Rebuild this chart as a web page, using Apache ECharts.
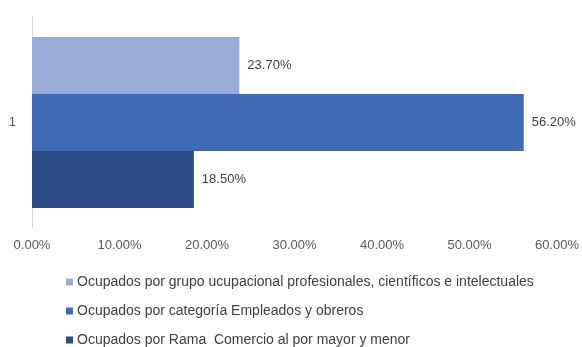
<!DOCTYPE html>
<html>
<head>
<meta charset="utf-8">
<script src="https://cdn.jsdelivr.net/npm/echarts@6/dist/echarts.min.js"></script>
<style>
  html, body { margin: 0; padding: 0; background: #fff; }
  #chart { width: 582px; height: 347px; }
</style>
</head>
<body>
<div id="chart"></div>
<script>
// Categories and series values (percent)
const categories = ['1'];
const seriesNames = [
  'Ocupados por grupo ucupacional profesionales, científicos e intelectuales',
  'Ocupados por categoría Empleados y obreros',
  'Ocupados por Rama  Comercio al por mayor y menor'
];
const profesionales = [23.7];
const empleados = [56.2];
const comercio = [18.5];
const seriesColors = ['#98aad6', '#3e6ab8', '#2c4c87'];
const xTicks = { min: 0, max: 60, interval: 10 };

const font = 'Liberation Sans';
const textColor = '#595959';

function pct(v) { return v.toFixed(2) + '%'; }

function makeSeries(name, data, color) {
  return {
    name: name,
    type: 'bar',
    data: data,
    barGap: '0%',
    barCategoryGap: '19%',
    itemStyle: { color: color },
    label: {
      show: true,
      position: 'right',
      distance: 8,
      color: '#404040',
      fontFamily: font,
      fontSize: 13,
      formatter: p => pct(p.value)
    }
  };
}

const chart = echarts.init(document.getElementById('chart'), null, { renderer: 'canvas' });
chart.setOption({
  animation: false,
  textStyle: { fontFamily: font },
  grid: { left: 32, right: 23, top: 17, bottom: 119, containLabel: false },
  legend: {
    orient: 'vertical',
    left: 66,
    top: 275,
    padding: 0,
    itemWidth: 7,
    itemHeight: 7,
    itemGap: 15,
    icon: 'rect',
    data: seriesNames,
    textStyle: { color: '#404040', fontFamily: font, fontSize: 14, padding: [0, 0, 0, -1] }
  },
  xAxis: {
    type: 'value',
    min: xTicks.min,
    max: xTicks.max,
    interval: xTicks.interval,
    axisLine: { show: false },
    axisTick: { show: false },
    splitLine: { show: false },
    axisLabel: {
      color: textColor,
      fontFamily: font,
      fontSize: 13,
      margin: 11,
      formatter: v => pct(v)
    }
  },
  yAxis: {
    type: 'category',
    data: categories,
    inverse: true,
    axisLine: { show: true, lineStyle: { color: '#d9d9d9', width: 1 } },
    axisTick: { show: false },
    axisLabel: { color: textColor, fontFamily: font, fontSize: 13, margin: 16 }
  },
  series: [
    makeSeries(seriesNames[0], profesionales, seriesColors[0]),
    makeSeries(seriesNames[1], empleados, seriesColors[1]),
    makeSeries(seriesNames[2], comercio, seriesColors[2])
  ]
});
</script>
</body>
</html>
